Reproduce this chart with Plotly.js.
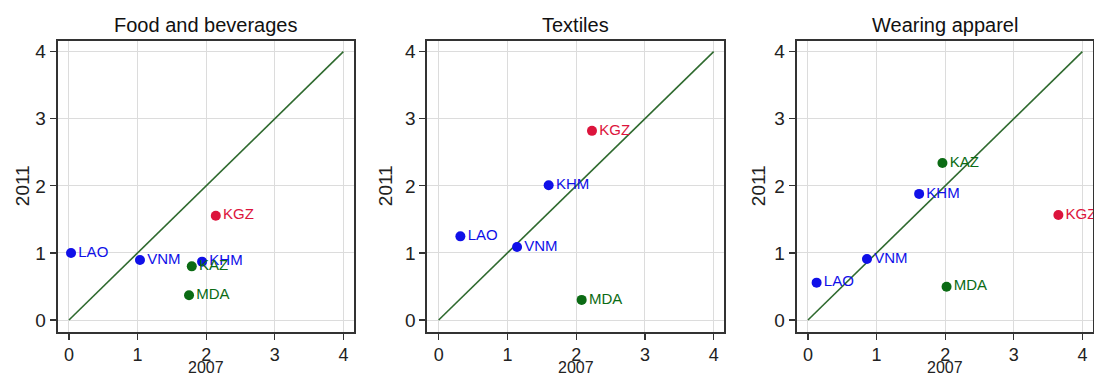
<!DOCTYPE html>
<html><head><meta charset="utf-8">
<script src="https://cdn.plot.ly/plotly-3.0.1.min.js"></script>
<style>html,body{margin:0;padding:0;background:#fff}#chart{width:1094px;height:375px}</style>
</head><body><div id="chart"></div>
<script>
const panelTitles = ['Food and beverages', 'Textiles', 'Wearing apparel'];
const xAxisTitle = '2007';
const yAxisTitle = '2011';
const countries = ['LAO', 'VNM', 'KHM', 'KAZ', 'MDA', 'KGZ'];
const countryColors = ['#1010e8', '#1010e8', '#1010e8', '#0b6b14', '#0b6b14', '#dc143c'];
const food2007 = [0.03, 1.035, 1.94, 1.79, 1.75, 2.14];
const food2011 = [1.00, 0.894, 0.87, 0.80, 0.37, 1.555];
const textiles2007 = [0.316, 1.14, 1.60, null, 2.08, 2.23];
const textiles2011 = [1.247, 1.088, 2.01, null, 0.30, 2.82];
const apparel2007 = [0.126, 0.86, 1.62, 1.96, 2.02, 3.65];
const apparel2011 = [0.557, 0.91, 1.88, 2.34, 0.497, 1.565];
const diagonal = [0, 4];
const tickVals = [0, 1, 2, 3, 4];

const xs = [food2007, textiles2007, apparel2007];
const ys = [food2011, textiles2011, apparel2011];
const domainsX = [[0.0527, 0.3236], [0.3906, 0.6621], [0.7282, 0.9991]];
const yTitleX = [22, 385, 758];
const domainY = [0.1155, 0.8915];
const fontFam = 'Arial, "Liberation Sans", sans-serif';
const W = 1094, H = 375;

const traces = [];
const layout = {
  width: W, height: H,
  margin: {l: 0, r: 0, t: 0, b: 0},
  paper_bgcolor: '#fff', plot_bgcolor: '#fff',
  showlegend: false,
  font: {family: fontFam, color: '#222'},
  annotations: []
};

for (let p = 0; p < 3; p++) {
  const sfx = p === 0 ? '' : String(p + 1);
  traces.push({
    x: diagonal, y: diagonal, mode: 'lines', type: 'scatter',
    xaxis: 'x' + sfx, yaxis: 'y' + sfx,
    line: {color: '#2f6a2f', width: 1.6}, hoverinfo: 'skip'
  });
  traces.push({
    x: xs[p], y: ys[p], text: countries, mode: 'markers+text', type: 'scatter',
    xaxis: 'x' + sfx, yaxis: 'y' + sfx,
    textposition: 'middle right', cliponaxis: false,
    marker: {color: countryColors, size: 10},
    textfont: {color: countryColors, size: 15, family: fontFam}
  });
  const axCommon = {
    tickvals: tickVals, ticks: 'outside', ticklen: 6, tickwidth: 1.2, tickcolor: '#333',
    showline: true, linecolor: '#333', linewidth: 2, mirror: true,
    showgrid: true, gridcolor: '#dcdcdc', gridwidth: 1, zeroline: false,
    tickfont: {size: 19, family: fontFam, color: '#222'}
  };
  layout['xaxis' + sfx] = Object.assign({}, axCommon, {
    domain: domainsX[p], range: [-0.165, 4.155], anchor: 'y' + sfx,
    tickfont: {size: 18, family: fontFam, color: '#222'}
  });
  layout['yaxis' + sfx] = Object.assign({}, axCommon, {
    domain: domainY, range: [-0.174, 4.164], anchor: 'x' + sfx
  });
  const cx = (domainsX[p][0] + domainsX[p][1]) / 2;
  layout.annotations.push({
    text: panelTitles[p], xref: 'paper', yref: 'paper',
    x: cx, y: 1 - 25 / H,
    xanchor: 'center', yanchor: 'middle', showarrow: false,
    font: {size: 20, family: fontFam, color: '#111'}
  });
  layout.annotations.push({
    text: xAxisTitle, xref: 'paper', yref: 'paper',
    x: cx, y: 1 - 367 / H,
    xanchor: 'center', yanchor: 'middle', showarrow: false,
    font: {size: 16, family: fontFam, color: '#222'}
  });
  layout.annotations.push({
    text: yAxisTitle, xref: 'paper', yref: 'paper',
    x: yTitleX[p] / W, y: (domainY[0] + domainY[1]) / 2,
    xanchor: 'center', yanchor: 'middle', showarrow: false, textangle: -90,
    font: {size: 19, family: fontFam, color: '#222'}
  });
}

Plotly.newPlot('chart', traces, layout, {staticPlot: true, displayModeBar: false});
</script></body></html>
